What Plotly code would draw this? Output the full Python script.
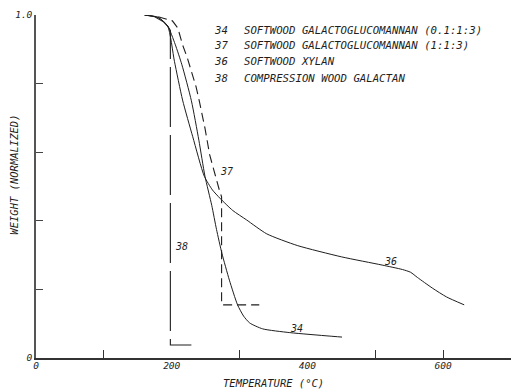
import plotly.graph_objects as go

# ---- data ----
t34 = [160, 180, 194, 205, 215, 229, 240, 249, 259, 266, 274, 285, 297, 306, 315, 334, 374, 432, 451]
w34 = [1.0, 0.993, 0.968, 0.915, 0.855, 0.75, 0.635, 0.53, 0.445, 0.375, 0.305, 0.227, 0.155, 0.122, 0.102, 0.085, 0.074, 0.064, 0.061]

t36 = [160, 180, 194, 204, 216, 231, 248, 260, 271, 290, 310, 340, 385, 450, 510, 540, 552, 562, 584, 605, 631]
w36 = [1.0, 0.993, 0.968, 0.865, 0.752, 0.645, 0.53, 0.49, 0.466, 0.43, 0.403, 0.362, 0.328, 0.295, 0.271, 0.258, 0.25, 0.235, 0.204, 0.178, 0.155]

t37 = [180, 187, 201, 209, 216, 223, 229, 236, 241, 249, 256, 264, 271, 273.5, 273.5, 329]
w37 = [0.995, 0.991, 0.983, 0.962, 0.913, 0.875, 0.834, 0.79, 0.746, 0.67, 0.592, 0.53, 0.484, 0.47, 0.155, 0.155]

t38 = [160, 175, 188, 195, 198, 198, 229]
w38 = [1.0, 0.995, 0.98, 0.965, 0.955, 0.038, 0.038]

legend_ids = ["34", "37", "36", "38"]
legend_texts = [
    "SOFTWOOD GALACTOGLUCOMANNAN (0.1:1:3)",
    "SOFTWOOD GALACTOGLUCOMANNAN (1:1:3)",
    "SOFTWOOD XYLAN",
    "COMPRESSION WOOD GALACTAN",
]
legend_w = [0.956, 0.910, 0.863, 0.816]

curve_labels = ["37", "38", "36", "34"]
curve_label_t = [280, 214, 523, 384]
curve_label_w = [0.545, 0.324, 0.28, 0.085]

x_tick_marks = [100, 300, 500, 600]
x_label_vals = [0, 200, 400, 600]
x_label_text = ["0", "200", "400", "600"]
y_tick_vals = [0, 0.2, 0.4, 0.6, 0.8, 1.0]
y_tick_text = ["0", "", "", "", "", "1.0"]

INK = "#1e1e1e"
MONO = "DejaVu Sans Mono"
FONT = dict(family=MONO, size=10.7, color=INK, style="italic")
LABFONT = dict(family=MONO, size=10, color=INK, style="italic")
TITLEFONT = dict(family=MONO, size=10.5, color=INK, style="italic")
TICKFONT = dict(family=MONO, size=9.5, color=INK, style="italic")

fig = go.Figure()
fig.add_trace(go.Scatter(x=t34, y=w34, mode="lines", line=dict(color=INK, width=1, shape="spline", smoothing=0.6), cliponaxis=False))
fig.add_trace(go.Scatter(x=t36, y=w36, mode="lines", line=dict(color=INK, width=1, shape="spline", smoothing=0.6), cliponaxis=False))
fig.add_trace(go.Scatter(x=t37, y=w37, mode="lines", line=dict(color=INK, width=1.1, dash="9px,5px"), cliponaxis=False))
fig.add_trace(go.Scatter(x=t38, y=w38, mode="lines", line=dict(color=INK, width=1.1, dash="60px,8px"), cliponaxis=False))
# invisible trace to activate overlay axis for labels
fig.add_trace(go.Scatter(x=[0], y=[0], xaxis="x2", mode="markers", marker=dict(opacity=0), hoverinfo="skip"))

annotations = []
for lid, txt, w in zip(legend_ids, legend_texts, legend_w):
    annotations.append(dict(x=260, y=w, xref="x", yref="y", text=lid, showarrow=False,
                            xanchor="left", yanchor="middle", font=FONT))
    annotations.append(dict(x=304, y=w, xref="x", yref="y", text=txt, showarrow=False,
                            xanchor="left", yanchor="middle", font=FONT))
for lab, t, w in zip(curve_labels, curve_label_t, curve_label_w):
    annotations.append(dict(x=t, y=w, xref="x", yref="y", text=lab, showarrow=False,
                            xanchor="center", yanchor="middle", font=LABFONT))
annotations.append(dict(x=-0.046, y=0.535, xref="paper", yref="paper", text="WEIGHT (NORMALIZED)",
                        showarrow=False, textangle=-90, xanchor="center", yanchor="middle", font=TITLEFONT))
annotations.append(dict(x=0.5, y=-0.073, xref="paper", yref="paper", text="TEMPERATURE (°C)",
                        showarrow=False, xanchor="center", yanchor="middle", font=TITLEFONT))

fig.update_layout(
    width=511, height=390,
    margin=dict(l=36, r=0, t=15, b=32),
    paper_bgcolor="white", plot_bgcolor="white",
    showlegend=False,
    font=FONT,
    annotations=annotations,
    xaxis=dict(range=[0, 700], showgrid=False, zeroline=False, showline=True, linecolor="#333",
               linewidth=1.5, ticks="inside", ticklen=8, tickcolor="#333", tickvals=x_tick_marks,
               showticklabels=False),
    xaxis2=dict(range=[0, 700], overlaying="x", anchor="y", side="bottom", showgrid=False,
                zeroline=False, showline=False, ticks="", tickvals=x_label_vals, ticktext=x_label_text,
                tickfont=TICKFONT),
    yaxis=dict(range=[0, 1.0], showgrid=False, zeroline=False, showline=True, linecolor="#555",
               linewidth=1.5, ticks="inside", ticklen=7, tickcolor="#444", tickvals=y_tick_vals,
               ticktext=y_tick_text, tickfont=TICKFONT),
)

fig.write_html("out.html")
